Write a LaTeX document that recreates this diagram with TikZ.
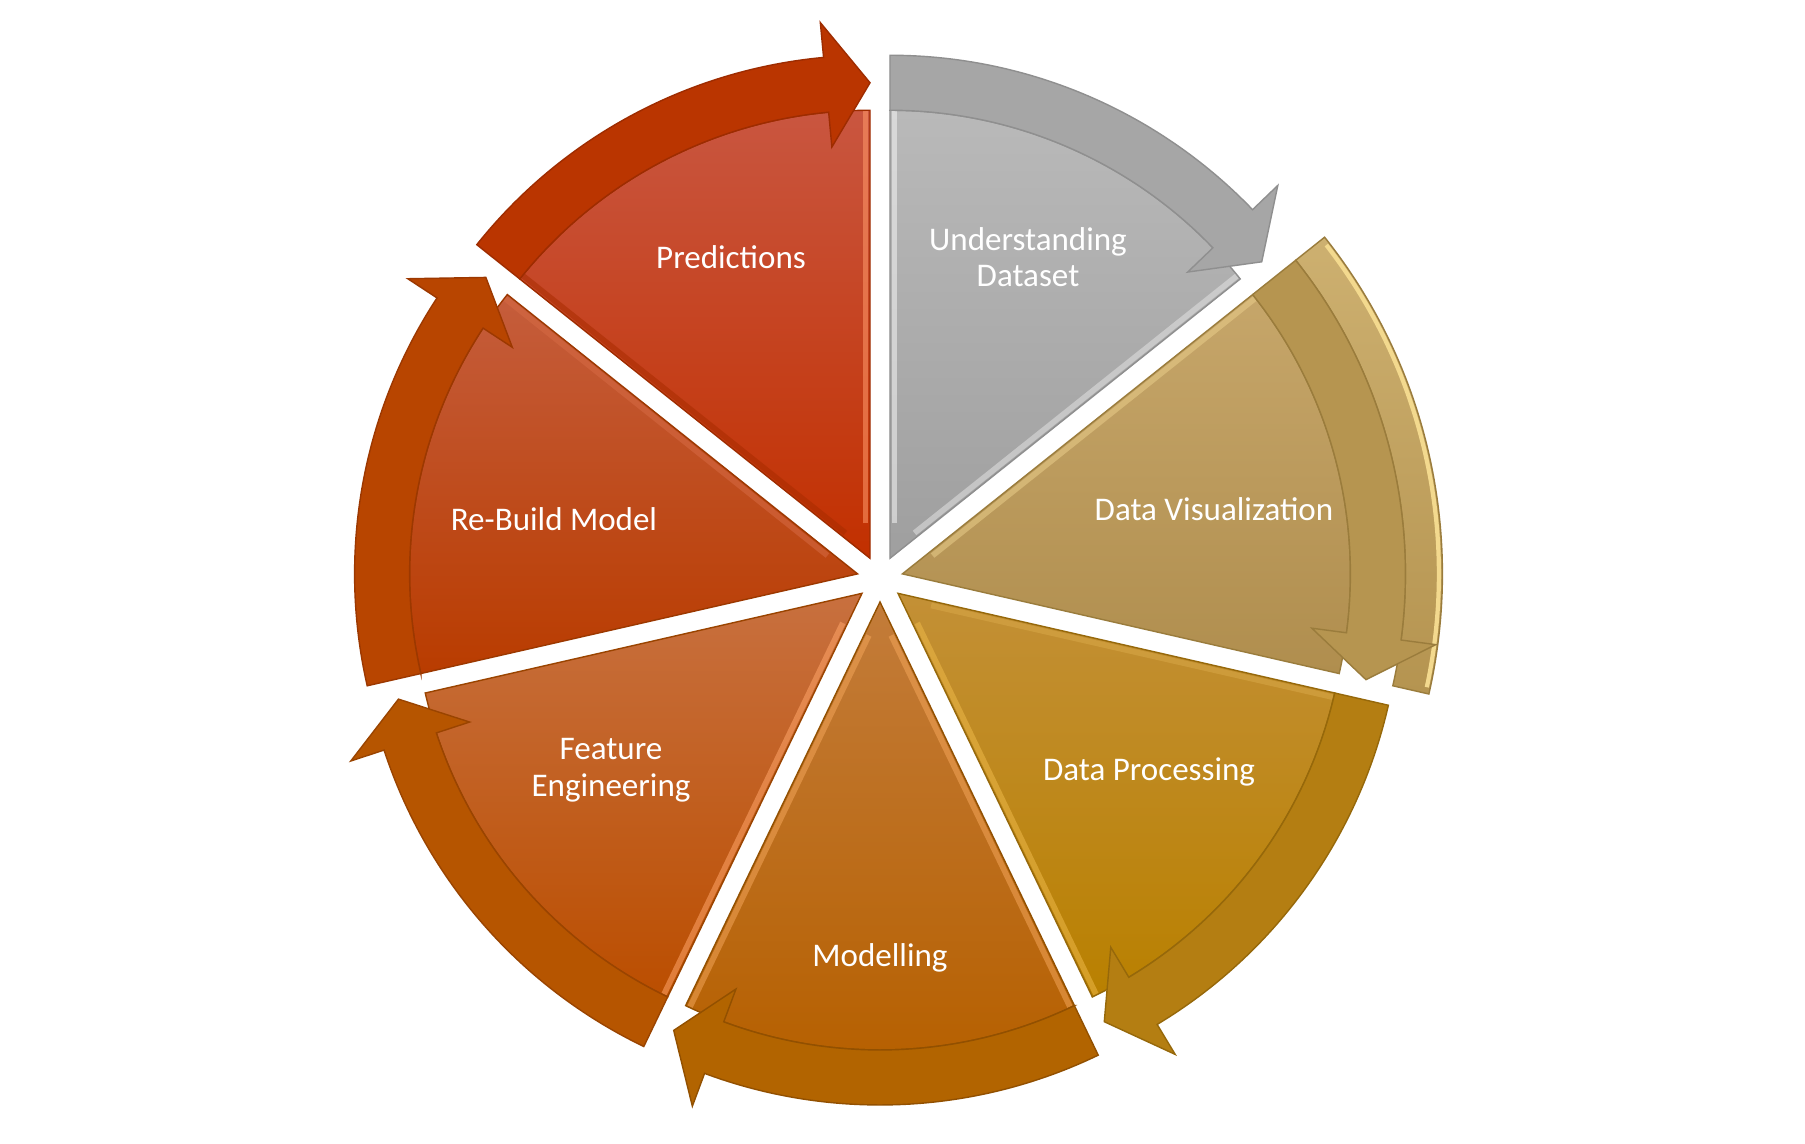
\documentclass[tikz,border=0pt]{standalone}
\usepackage{fontspec}
\setmainfont{Carlito}
\usetikzlibrary{calc}

% segment palettes
\definecolor{grayTop}{HTML}{B9B9B9}\definecolor{grayBot}{HTML}{9F9F9F}
\definecolor{grayBand}{HTML}{A6A6A6}\definecolor{grayLine}{HTML}{8F8F8F}
\definecolor{visTop}{HTML}{C6A66A}\definecolor{visBot}{HTML}{B08E4E}
\definecolor{visBand}{HTML}{B69550}\definecolor{visLine}{HTML}{9A7C3C}
\definecolor{visRimTop}{HTML}{CDB070}\definecolor{visRimBot}{HTML}{B59450}
\definecolor{visGlow}{HTML}{F3D98E}
\definecolor{procTop}{HTML}{C39036}\definecolor{procBot}{HTML}{B98000}
\definecolor{procBand}{HTML}{B47E12}\definecolor{procLine}{HTML}{96680A}
\definecolor{modTop}{HTML}{C37C3A}\definecolor{modBot}{HTML}{B66000}
\definecolor{modBand}{HTML}{B26400}\definecolor{modLine}{HTML}{925000}
\definecolor{featTop}{HTML}{C8703F}\definecolor{featBot}{HTML}{BB4E00}
\definecolor{featBand}{HTML}{B65500}\definecolor{featLine}{HTML}{9A4400}
\definecolor{rebTop}{HTML}{C55D3C}\definecolor{rebBot}{HTML}{B93C00}
\definecolor{rebBand}{HTML}{B84500}\definecolor{rebLine}{HTML}{9C3800}
\definecolor{predTop}{HTML}{C95640}\definecolor{predBot}{HTML}{C23000}
\definecolor{predBand}{HTML}{BA3500}\definecolor{predLine}{HTML}{9E2C00}
\definecolor{hlWhite}{HTML}{F4F4F4}\definecolor{hlGray}{HTML}{E2E2E2}
\definecolor{hlSand}{HTML}{E9CD8A}
\definecolor{hlGold}{HTML}{EDB848}\definecolor{hlGoldDim}{HTML}{D8A848}
\definecolor{hlOrange}{HTML}{F2A458}\definecolor{hlPeach}{HTML}{FFA468}
\definecolor{hlRust}{HTML}{D66A44}\definecolor{hlRed}{HTML}{FF9A6A}
\definecolor{hlDark}{HTML}{A82C00}

\tikzset{
  outline/.style={line width=0.4pt},
  bevel/.style={line width=1.6pt, line cap=butt, opacity=0.55},
  steplabel/.style={text=white, font=\fontsize{9.4pt}{10.4pt}\selectfont,
    align=center, inner sep=0pt},
}

% one pie segment with its curved arrow band
% #1 index (0 = top right, clockwise), #2/#3 wedge shade top/bottom,
% #4 band colour, #5 outline colour, #6/#7 bevel colour on start/end edge
\newcommand\cyclepart[7]{%
  \pgfmathsetmacro\segS{90-360/7*#1}%
  \pgfmathsetmacro\segE{\segS-360/7}%
  \pgfmathsetmacro\segM{\segS-180/7}%
  \pgfmathsetmacro\segB{\segE+5.3}%
  \pgfmathsetmacro\segSi{\segS-90}%
  \pgfmathsetmacro\segEi{\segE+90}%
  \begin{scope}[shift={(\segM:0.23)}]
    \shadedraw[top color=#2, bottom color=#3, draw=#5, outline]
      (0,0) -- (\segS:4.48) arc[start angle=\segS, end angle=\segE, radius=4.48] -- cycle;
    \path[draw=#6, bevel] ($(\segS:0.35)+(\segSi:0.045)$) -- ($(\segS:4.47)+(\segSi:0.045)$);
    \path[draw=#7, bevel] ($(\segE:0.35)+(\segEi:0.045)$) -- ($(\segE:4.47)+(\segEi:0.045)$);
    \filldraw[fill=#4, draw=#5, outline]
      (\segS:4.48) -- (\segS:5.03)
      arc[start angle=\segS, end angle=\segB, radius=5.03]
      -- (\segB:5.38) -- (\segE:4.755) -- (\segB:4.13) -- (\segB:4.48)
      arc[start angle=\segB, end angle=\segS, radius=4.48] -- cycle;
  \end{scope}}

\begin{document}
\begin{tikzpicture}
  \fill[white] (-8.80,-5.65) rectangle (9.25,5.79);
  \useasboundingbox (-8.80,-5.65) rectangle (9.25,5.79);

  % raised outer rim of the visualization segment
  \begin{scope}[shift={(12.857:0.23)}]
    \shadedraw[top color=visRimTop, bottom color=visRimBot, draw=visLine, outline]
      (38.571:5.03) arc[start angle=38.571, end angle=-12.857, radius=5.03]
      -- (-12.857:5.40) arc[start angle=-12.857, end angle=38.571, radius=5.40] -- cycle;
    \draw[visGlow, line width=1.2pt]
      (37.8:5.365) arc[start angle=37.8, end angle=-12.2, radius=5.365];
  \end{scope}

  \cyclepart{0}{grayTop}{grayBot}{grayBand}{grayLine}{hlWhite}{hlGray}
  \cyclepart{1}{visTop}{visBot}{visBand}{visLine}{hlSand}{none}
  \cyclepart{2}{procTop}{procBot}{procBand}{procLine}{hlGoldDim}{hlGold}
  \cyclepart{3}{modTop}{modBot}{modBand}{modLine}{hlOrange}{hlOrange}
  \cyclepart{4}{featTop}{featBot}{featBand}{featLine}{hlPeach}{none}
  \cyclepart{5}{rebTop}{rebBot}{rebBand}{rebLine}{none}{hlRust}
  \cyclepart{6}{predTop}{predBot}{predBand}{predLine}{hlDark}{hlRed}

  \node[steplabel] (understanding) at (1.48,3.22) {Understanding\\Dataset};
  \node[steplabel] (visualization) at (3.34,0.70) {Data Visualization};
  \node[steplabel] (processing)    at (2.69,-1.925) {Data Processing};
  \node[steplabel] (modelling)     at (0,-3.785) {Modelling};
  \node[steplabel] (feature)       at (-2.69,-1.91) {Feature\\Engineering};
  \node[steplabel] (rebuild)       at (-3.26,0.60) {Re-Build Model};
  \node[steplabel] (predictions)   at (-1.49,3.22) {Predictions};
\end{tikzpicture}
\end{document}
